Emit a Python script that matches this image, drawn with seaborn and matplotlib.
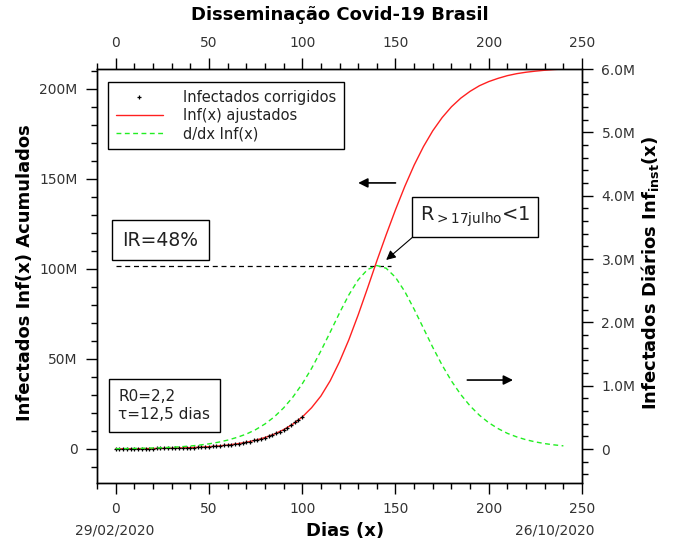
import matplotlib
matplotlib.use('Agg')
import matplotlib.pyplot as plt
import seaborn as sns
import pandas as pd
from matplotlib.ticker import MultipleLocator, FuncFormatter
from matplotlib.lines import Line2D

sns.set_theme(style='ticks')
plt.rcParams['font.family'] = ['DejaVu Sans']

# ---------------- data (values in millions) ----------------
days_fit = list(range(0, 245, 5))
inf_fit_M = [0.083, 0.109, 0.143, 0.188, 0.247, 0.325, 0.427, 0.560, 0.735, 0.966,
             1.267, 1.663, 2.179, 2.851, 3.731, 4.873, 6.354, 8.259, 10.71, 13.81,
             17.73, 22.9, 29.4, 37.9, 48.5, 60.7, 74.5, 89.3, 104.5, 119.0,
             132.9, 145.9, 157.7, 168.0, 176.8, 184.1, 190.1, 194.9, 198.7, 201.8,
             204.1, 205.9, 207.4, 208.5, 209.3, 209.9, 210.4, 210.8, 211.1]
dinf_fit_M = [0.0053, 0.0070, 0.0092, 0.0121, 0.0159, 0.0209, 0.0274, 0.0360, 0.0473, 0.0621,
              0.0815, 0.1069, 0.1401, 0.1833, 0.2351, 0.3051, 0.3948, 0.5071, 0.6482, 0.8204,
              1.0286, 1.272, 1.549, 1.846, 2.150, 2.435, 2.672, 2.835, 2.898, 2.855,
              2.712, 2.487, 2.208, 1.907, 1.605, 1.325, 1.074, 0.860, 0.680, 0.533,
              0.415, 0.322, 0.247, 0.191, 0.146, 0.112, 0.0855, 0.0652, 0.0498]
days_obs = list(range(0, 101, 2))
inf_obs_M = [0.08, 0.09, 0.10, 0.12, 0.13, 0.14, 0.16, 0.18, 0.20, 0.22,
             0.25, 0.27, 0.31, 0.34, 0.38, 0.43, 0.47, 0.53, 0.62, 0.66,
             0.74, 0.82, 0.91, 1.02, 1.14, 1.27, 1.41, 1.58, 1.76, 2.05,
             2.18, 2.43, 2.62, 3.01, 3.35, 3.73, 4.15, 4.75, 5.13, 5.70,
             6.35, 6.95, 7.84, 8.85, 9.66, 10.7, 11.7, 13.1, 14.8, 16.1, 17.7]

legend_labels = ['Infectados corrigidos', 'Inf(x) ajustados', 'd/dx Inf(x)']
title = 'Disseminação Covid-19 Brasil'
x_label = 'Dias (x)'
y_left_label = 'Infectados Inf(x) Acumulados'
y_right_label = r'Infectados Diários Inf$_{\mathbf{inst}}$(x)'
date_start = '29/02/2020'
date_end = '26/10/2020'
ir_text = 'IR=48%'
ir_level_M = 101.8
r_text = r'R$_{>17\mathrm{julho}}$<1'
param_text = 'R0=2,2\nτ=12,5 dias'

M = 1e6
df_fit = pd.DataFrame({'dia': days_fit,
                       'inf': [v * M for v in inf_fit_M],
                       'dinf': [v * M for v in dinf_fit_M]})
df_obs = pd.DataFrame({'dia': days_obs, 'inf': [v * M for v in inf_obs_M]})

# ---------------- figure ----------------
fig = plt.figure(figsize=(6.92, 5.47), dpi=100)
ax = fig.add_axes([0.1402, 0.117, 0.7009, 0.7569])
ax2 = ax.twinx()

RED = '#ff2020'
GREEN = '#22ee22'

sns.lineplot(data=df_fit, x='dia', y='inf', color=RED, lw=1.0, ax=ax, legend=False, zorder=3)
sns.scatterplot(data=df_obs, x='dia', y='inf', marker='+', color='black', s=8,
                linewidth=0.9, ax=ax, legend=False, zorder=4)
sns.lineplot(data=df_fit, x='dia', y='dinf', color=GREEN, lw=1.0, ax=ax2, legend=False,
             dashes=False)
ax2.lines[0].set_dashes((3.5, 2.5))

ax.set_xlim(-10, 250)
ax.set_ylim(-18.9 * M, 211.1 * M)
ax2.set_ylim(-0.537 * M, 6.003 * M)

ax.set_xlabel('')
ax.set_ylabel('')
ax2.set_ylabel('')

# ticks
ax.xaxis.set_major_locator(MultipleLocator(50))
ax.xaxis.set_minor_locator(MultipleLocator(10))
ax.yaxis.set_major_locator(MultipleLocator(50 * M))
ax.yaxis.set_minor_locator(MultipleLocator(10 * M))
ax2.yaxis.set_major_locator(MultipleLocator(1 * M))
ax2.yaxis.set_minor_locator(MultipleLocator(0.2 * M))
ax.yaxis.set_major_formatter(FuncFormatter(lambda v, p: '0' if abs(v) < 1 else f'{v / M:.0f}M'))
ax2.yaxis.set_major_formatter(FuncFormatter(lambda v, p: '0' if abs(v) < 1 else f'{v / M:.1f}M'))

for a in (ax, ax2):
    for s in a.spines.values():
        s.set_visible(True)
        s.set_color('black')
        s.set_linewidth(1.0)
ax.tick_params(axis='x', which='both', direction='out', top=True, labeltop=True,
               bottom=True, labelbottom=True, colors='black', labelcolor='#333333',
               labelsize=10)
ax.tick_params(axis='x', which='major', length=8, width=1, pad=6)
ax.tick_params(axis='x', which='minor', length=4, width=1)
ax.tick_params(axis='y', which='both', direction='out', colors='black',
               labelcolor='#333333', labelsize=10)
ax.tick_params(axis='y', which='major', length=8, width=1, pad=6)
ax.tick_params(axis='y', which='minor', length=4, width=1)
ax2.tick_params(axis='y', which='both', direction='out', colors='black',
                labelcolor='#333333', labelsize=10)
ax2.tick_params(axis='y', which='major', length=8, width=1, pad=6)
ax2.tick_params(axis='y', which='minor', length=4, width=1)

# legend
handles = [Line2D([], [], marker='+', color='black', linestyle='none', markersize=3,
                  markeredgewidth=0.9),
           Line2D([], [], color=RED, lw=1.0),
           Line2D([], [], color=GREEN, lw=1.0, dashes=(3.5, 2.5))]
leg = ax2.legend(handles, legend_labels, loc='upper left',
                 bbox_to_anchor=(0.0227, 0.9686), borderaxespad=0,
                 fancybox=False, edgecolor='black', framealpha=1, fontsize=10.5,
                 handlelength=3.2, labelspacing=0.22, borderpad=0.55,
                 handletextpad=1.4)
leg.get_frame().set_linewidth(1.0)
for t in leg.get_texts():
    t.set_color('#222222')

# annotations
ax.hlines(ir_level_M * M, 0, 147.5, colors='black', linestyles=(0, (4, 3)), lw=0.9, zorder=2)
ax.text(24, 116 * M, ir_text, fontsize=13.5, color='#222222', ha='center', va='center',
        bbox=dict(boxstyle='square,pad=0.55', fc='white', ec='black', lw=1))
ax.text(192.7, 128.8 * M, r_text, fontsize=14, color='#222222', ha='center', va='center',
        bbox=dict(boxstyle='square,pad=0.38', fc='white', ec='black', lw=1))
ax.text(1.5, 24 * M, param_text, fontsize=11, color='#222222', ha='left', va='center',
        linespacing=1.25,
        bbox=dict(boxstyle='square,pad=0.65', fc='white', ec='black', lw=1))
ax.annotate('', xy=(145.0, 105 * M), xytext=(159.0, 117.5 * M),
            arrowprops=dict(arrowstyle='-|>', color='black', lw=0.8, mutation_scale=14,
                            shrinkA=0, shrinkB=0))
ax.annotate('', xy=(130, 147.8 * M), xytext=(150, 147.8 * M),
            arrowprops=dict(arrowstyle='-|>', color='black', lw=1.2, mutation_scale=14,
                            shrinkA=0, shrinkB=0))
ax.annotate('', xy=(213, 38.3 * M), xytext=(188.5, 38.3 * M),
            arrowprops=dict(arrowstyle='-|>', color='black', lw=1.2, mutation_scale=14,
                            shrinkA=0, shrinkB=0))

# texts
fig.text(339.5 / 692, 1 - 15 / 547, title, fontsize=13, fontweight='bold',
         ha='center', va='center', color='black')
fig.text(345 / 692, 1 - 531 / 547, x_label, fontsize=13, fontweight='bold',
         ha='center', va='center', color='black')
fig.text(115 / 692, 1 - 531 / 547, date_start, fontsize=10, ha='center', va='center',
         color='#333333')
fig.text(555 / 692, 1 - 531 / 547, date_end, fontsize=10, ha='center', va='center',
         color='#333333')
fig.text(25 / 692, 1 - 273 / 547, y_left_label, fontsize=13, fontweight='bold',
         rotation=90, ha='center', va='center', color='black')
fig.text(650 / 692, 1 - 273 / 547, y_right_label, fontsize=13, fontweight='bold',
         rotation=90, ha='center', va='center', color='black')

fig.savefig('out.png', dpi=100)
